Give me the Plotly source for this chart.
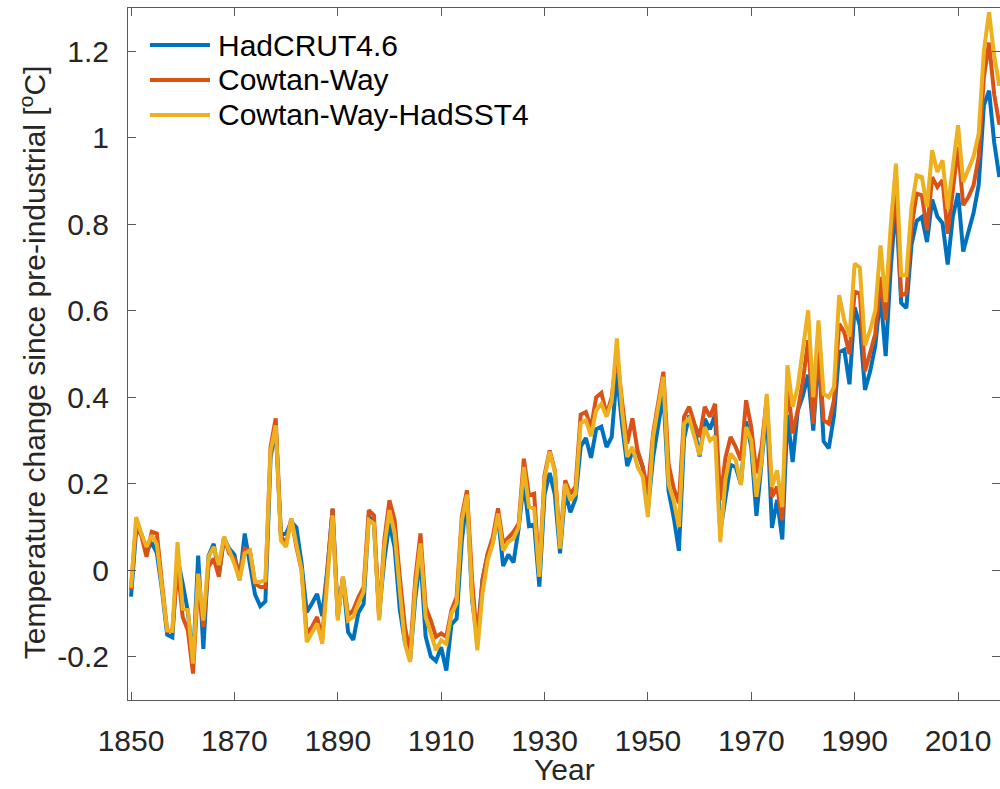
import plotly.graph_objects as go

# Annual global mean temperature change relative to pre-industrial (1850-1900), degC
years = list(range(1850, 2019))

hadcrut = [
    -0.061, 0.094, 0.084, 0.043, 0.064, 0.040, -0.046, -0.149, -0.155, 0.028,
    -0.031, -0.095, -0.212, 0.034, -0.182, 0.033, 0.061, -0.009, 0.074, 0.050,
    0.036, -0.023, 0.085, 0.008, -0.056, -0.083, -0.072, 0.260, 0.330, 0.082,
    0.085, 0.112, 0.099, 0.016, -0.097, -0.077, -0.055, -0.106, 0.005, 0.141,
    -0.104, -0.018, -0.143, -0.161, -0.098, -0.078, 0.126, 0.106, -0.100, 0.023,
    0.109, 0.053, -0.090, -0.167, -0.208, -0.065, 0.029, -0.153, -0.199, -0.210,
    -0.178, -0.232, -0.125, -0.112, 0.068, 0.171, -0.071, -0.156, -0.021, 0.037,
    0.065, 0.125, 0.010, 0.036, 0.018, 0.097, 0.204, 0.102, 0.106, -0.038,
    0.175, 0.225, 0.175, 0.039, 0.181, 0.134, 0.165, 0.286, 0.306, 0.260,
    0.326, 0.332, 0.285, 0.308, 0.456, 0.337, 0.241, 0.274, 0.273, 0.238,
    0.139, 0.260, 0.340, 0.409, 0.183, 0.122, 0.045, 0.305, 0.358, 0.329,
    0.263, 0.350, 0.326, 0.360, 0.089, 0.172, 0.244, 0.238, 0.199, 0.344,
    0.285, 0.126, 0.247, 0.374, 0.098, 0.163, 0.071, 0.359, 0.250, 0.369,
    0.404, 0.452, 0.323, 0.506, 0.298, 0.282, 0.357, 0.504, 0.510, 0.430,
    0.608, 0.566, 0.417, 0.460, 0.520, 0.637, 0.495, 0.702, 0.851, 0.618,
    0.606, 0.753, 0.808, 0.817, 0.759, 0.857, 0.818, 0.803, 0.707, 0.818,
    0.872, 0.737, 0.782, 0.826, 0.891, 1.075, 1.109, 0.989, 0.909,
]

cowtan_way = [
    -0.045, 0.110, 0.080, 0.031, 0.089, 0.085, -0.030, -0.140, -0.140, 0.010,
    -0.108, -0.139, -0.239, -0.027, -0.131, 0.008, 0.027, -0.015, 0.077, 0.039,
    0.027, -0.008, 0.050, 0.046, -0.031, -0.039, -0.039, 0.285, 0.351, 0.080,
    0.060, 0.120, 0.054, 0.000, -0.146, -0.131, -0.108, -0.158, 0.000, 0.143,
    -0.108, -0.015, -0.104, -0.092, -0.062, -0.039, 0.139, 0.127, -0.112, 0.069,
    0.162, 0.116, -0.015, -0.131, -0.193, -0.020, 0.085, -0.085, -0.116, -0.154,
    -0.146, -0.154, -0.092, -0.062, 0.125, 0.185, -0.023, -0.170, -0.023, 0.039,
    0.077, 0.143, 0.062, 0.077, 0.089, 0.108, 0.258, 0.173, 0.177, -0.008,
    0.220, 0.277, 0.231, 0.062, 0.208, 0.177, 0.193, 0.360, 0.366, 0.330,
    0.400, 0.410, 0.360, 0.400, 0.500, 0.390, 0.293, 0.351, 0.277, 0.239,
    0.185, 0.316, 0.385, 0.459, 0.245, 0.190, 0.155, 0.355, 0.378, 0.339,
    0.308, 0.378, 0.355, 0.385, 0.162, 0.260, 0.308, 0.285, 0.254, 0.393,
    0.331, 0.224, 0.285, 0.400, 0.170, 0.193, 0.116, 0.440, 0.316, 0.370,
    0.439, 0.532, 0.339, 0.509, 0.347, 0.339, 0.393, 0.570, 0.550, 0.500,
    0.644, 0.640, 0.460, 0.500, 0.547, 0.678, 0.578, 0.760, 0.886, 0.636,
    0.640, 0.794, 0.871, 0.867, 0.786, 0.909, 0.886, 0.902, 0.778, 0.879,
    0.979, 0.844, 0.863, 0.890, 0.956, 1.140, 1.220, 1.100, 1.030,
]

cowtan_way_hadsst4 = [
    -0.040, 0.123, 0.085, 0.054, 0.081, 0.060, -0.040, -0.139, -0.140, 0.065,
    -0.089, -0.092, -0.216, -0.008, -0.116, 0.031, 0.054, 0.012, 0.077, 0.046,
    0.015, -0.023, 0.039, 0.046, -0.027, -0.027, -0.023, 0.275, 0.335, 0.069,
    0.054, 0.120, 0.054, 0.000, -0.166, -0.146, -0.123, -0.170, -0.020, 0.127,
    -0.116, -0.015, -0.116, -0.108, -0.077, -0.050, 0.116, 0.108, -0.116, 0.054,
    0.139, 0.085, -0.046, -0.170, -0.212, -0.040, 0.062, -0.108, -0.146, -0.185,
    -0.162, -0.170, -0.100, -0.077, 0.115, 0.175, -0.062, -0.185, -0.054, 0.023,
    0.062, 0.131, 0.046, 0.066, 0.073, 0.100, 0.239, 0.146, 0.143, -0.015,
    0.212, 0.274, 0.227, 0.050, 0.200, 0.162, 0.177, 0.340, 0.347, 0.310,
    0.370, 0.385, 0.355, 0.390, 0.536, 0.370, 0.262, 0.285, 0.239, 0.216,
    0.123, 0.308, 0.378, 0.447, 0.200, 0.160, 0.100, 0.339, 0.351, 0.312,
    0.266, 0.331, 0.300, 0.310, 0.065, 0.210, 0.270, 0.254, 0.197, 0.331,
    0.300, 0.170, 0.254, 0.408, 0.193, 0.231, 0.146, 0.474, 0.378, 0.424,
    0.509, 0.601, 0.400, 0.578, 0.408, 0.400, 0.424, 0.636, 0.578, 0.540,
    0.709, 0.700, 0.520, 0.555, 0.601, 0.751, 0.620, 0.800, 0.940, 0.682,
    0.682, 0.840, 0.913, 0.909, 0.840, 0.971, 0.921, 0.948, 0.836, 0.933,
    1.029, 0.898, 0.925, 0.956, 1.010, 1.200, 1.290, 1.190, 1.120,
]

series_names = ["HadCRUT4.6", "Cowtan-Way", "Cowtan-Way-HadSST4"]
series_colors = ["#0072BD", "#D95319", "#EDB120"]

x_tick_vals = [1850, 1870, 1890, 1910, 1930, 1950, 1970, 1990, 2010]
y_tick_vals = [-0.2, 0, 0.2, 0.4, 0.6, 0.8, 1.0, 1.2]
y_tick_text = ["-0.2", "0", "0.2", "0.4", "0.6", "0.8", "1", "1.2"]

FONT = "Liberation Sans, Arial, Helvetica, sans-serif"
TEXT = "#262626"
AXIS = "#5a5a5a"

fig = go.Figure()
for name, vals, color in zip(series_names, [hadcrut, cowtan_way, cowtan_way_hadsst4], series_colors):
    fig.add_trace(go.Scatter(
        x=years, y=vals, mode="lines", name=name,
        line=dict(color=color, width=4), showlegend=False,
    ))

# legend drawn in the upper-left corner of the axes, MATLAB style
row_y = [0.9465, 0.896, 0.8455]
for name, color, ry in zip(series_names, series_colors, row_y):
    fig.add_shape(type="line", xref="x domain", yref="y domain",
                  x0=0.0252, x1=0.094, y0=ry, y1=ry,
                  line=dict(color=color, width=4))
    fig.add_annotation(xref="x domain", yref="y domain", x=0.101, y=ry,
                       text=name, showarrow=False, xanchor="left", yanchor="middle",
                       font=dict(family=FONT, size=30, color="#000000"))

fig.add_annotation(xref="paper", yref="paper", x=-0.109, y=0.488,
                   text="Temperature change since pre-industrial [<sup>o</sup>C]",
                   textangle=-90, showarrow=False, xanchor="center", yanchor="middle",
                   font=dict(family=FONT, size=30, color=TEXT))
fig.add_annotation(xref="paper", yref="paper", x=0.5, y=-0.1265,
                   text="Year", showarrow=False, xanchor="center", yanchor="bottom",
                   font=dict(family=FONT, size=30, color=TEXT))

fig.update_xaxes(
    range=[1849.42, 2018.12], tickvals=x_tick_vals,
    showline=True, linecolor=AXIS, linewidth=1, mirror="ticks",
    ticks="inside", ticklen=8, tickcolor=AXIS, tickwidth=1,
    showgrid=False, zeroline=False, ticklabelstandoff=14,
    tickfont=dict(family=FONT, size=30, color=TEXT),
)
fig.update_yaxes(
    range=[-0.3, 1.3], tickvals=y_tick_vals, ticktext=y_tick_text,
    showline=True, linecolor=AXIS, linewidth=1, mirror="ticks",
    ticks="inside", ticklen=8, tickcolor=AXIS, tickwidth=1,
    showgrid=False, zeroline=False, ticklabelstandoff=12,
    tickfont=dict(family=FONT, size=30, color=TEXT),
)

fig.update_layout(
    width=1000, height=789,
    margin=dict(l=128, r=0, t=8, b=89),
    plot_bgcolor="white", paper_bgcolor="white",
    showlegend=False,
)

fig.write_html("out.html")
